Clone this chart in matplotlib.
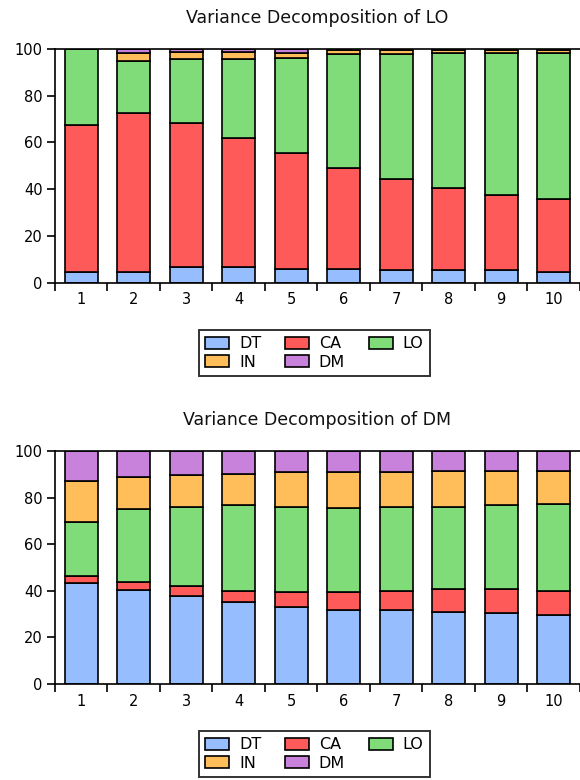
import matplotlib
matplotlib.use("Agg")
import matplotlib.pyplot as plt
import numpy as np
from matplotlib.patches import Patch

# Forecast horizons
periods = [1, 2, 3, 4, 5, 6, 7, 8, 9, 10]
components = ["DT", "CA", "LO", "IN", "DM"]

# Variance decomposition of LO (percent)
lo_dt = [4.7, 4.7, 6.6, 6.6, 6.0, 6.0, 5.3, 5.3, 5.3, 4.7]
lo_ca = [62.8, 67.8, 61.6, 55.5, 49.3, 43.2, 39.1, 35.4, 32.4, 31.0]
lo_lo = [32.5, 22.4, 27.4, 33.5, 40.7, 48.7, 53.5, 57.5, 60.5, 62.5]
lo_in = [0.0, 3.2, 3.0, 3.0, 2.4, 1.6, 1.6, 1.3, 1.3, 1.3]
lo_dm = [0.0, 1.9, 1.4, 1.4, 1.6, 0.5, 0.5, 0.5, 0.5, 0.5]

# Variance decomposition of DM (percent)
dm_dt = [43.3, 40.3, 37.7, 35.3, 32.9, 31.7, 31.7, 31.0, 30.3, 29.7]
dm_ca = [3.1, 3.6, 4.4, 4.8, 6.5, 7.7, 8.4, 9.7, 10.4, 10.4]
dm_lo = [23.0, 31.1, 34.0, 36.6, 36.7, 36.2, 36.0, 35.4, 36.0, 37.2]
dm_in = [17.9, 14.0, 13.5, 13.6, 14.9, 15.4, 14.9, 15.3, 14.7, 14.1]
dm_dm = [12.7, 11.0, 10.4, 9.7, 9.0, 9.0, 9.0, 8.6, 8.6, 8.6]

colors = ["#96BEFF", "#FF5A5A", "#80DC78", "#FFBE5A", "#C882DC"]

plt.rcParams.update({
    "font.family": "DejaVu Sans",
    "font.size": 10.5,
})

fig = plt.figure(figsize=(5.8, 7.8), dpi=100)


def draw_panel(ax, series, title):
    x = np.array(periods)
    bottom = np.zeros(len(periods))
    for vals, col in zip(series, colors):
        ax.bar(x, vals, width=0.63, bottom=bottom, color=col,
               edgecolor="black", linewidth=1.2)
        bottom += np.array(vals)
    ax.set_xlim(0.5, 10.5)
    ax.set_ylim(0, 100)
    ax.set_yticks([0, 20, 40, 60, 80, 100])
    ax.set_xticks(x)
    ax.set_xticklabels([str(p) for p in periods])
    ax.set_xticks(np.arange(0.5, 10.6, 1.0), minor=True)
    ax.tick_params(axis="x", which="major", length=0, pad=7, labelsize=10.5)
    ax.tick_params(axis="x", which="minor", length=6, width=1.2, direction="out")
    ax.tick_params(axis="y", length=6, width=1.2, direction="out", pad=3,
                   labelsize=10.5)
    ax.spines["right"].set_visible(False)
    for side in ["left", "bottom", "top"]:
        ax.spines[side].set_linewidth(1.2)
    ax.set_title(title, fontsize=12.5, pad=19, color="#111111")


ax1 = fig.add_axes([0.0948, 0.6376, 0.9052, 0.2996])
draw_panel(ax1, [lo_dt, lo_ca, lo_lo, lo_in, lo_dm], "Variance Decomposition of LO")

ax2 = fig.add_axes([0.0948, 0.1231, 0.9052, 0.2987])
draw_panel(ax2, [dm_dt, dm_ca, dm_lo, dm_in, dm_dm], "Variance Decomposition of DM")

# legend order so rows read DT CA LO / IN DM
order = [0, 3, 1, 4, 2]
handles = [Patch(facecolor=colors[i], edgecolor="black", linewidth=1.2) for i in order]
labels = [components[i] for i in order]

for top_px in (330, 731):
    leg = fig.legend(handles, labels, ncol=3, loc="upper left",
                     bbox_to_anchor=(199 / 580, 1 - top_px / 780),
                     frameon=True, fancybox=False, fontsize=11.5,
                     handlelength=1.5, handleheight=0.8, handletextpad=0.6,
                     columnspacing=1.5, labelspacing=0.2, borderpad=0.4,
                     borderaxespad=0)
    leg.get_frame().set_edgecolor("black")
    leg.get_frame().set_linewidth(1.4)

fig.savefig("out.png", dpi=100)
